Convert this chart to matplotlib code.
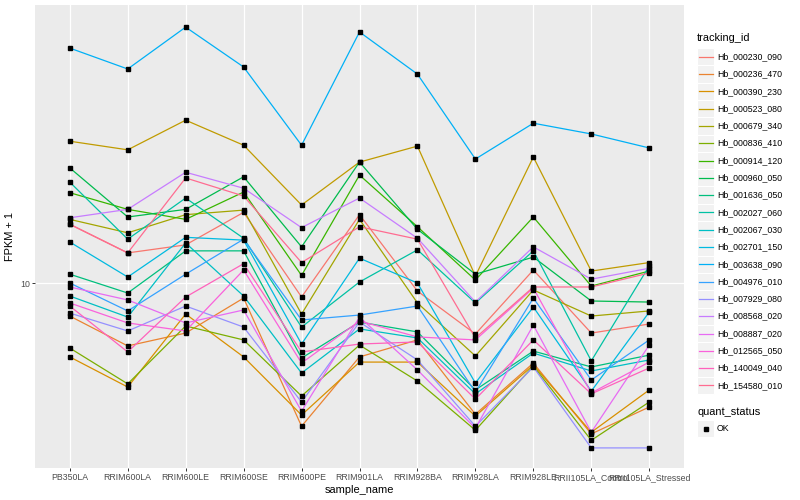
import matplotlib
matplotlib.use("Agg")
import matplotlib.pyplot as plt
from matplotlib.lines import Line2D
from matplotlib.patches import Rectangle
from matplotlib.ticker import FixedLocator, NullLocator, FixedFormatter

plt.rcParams["font.family"] = ["Liberation Sans", "DejaVu Sans"]

SAMPLES = ["PB350LA", "RRIM600LA", "RRIM600LE", "RRIM600SE", "RRIM600PE",
           "RRIM901LA", "RRIM928BA", "RRIM928LA", "RRIM928LE",
           "RRII105LA_Control", "RRII105LA_Stressed"]

TRACKING_IDS = ["Hb_000230_090", "Hb_000236_470", "Hb_000390_230", "Hb_000523_080",
                "Hb_000679_340", "Hb_000836_410", "Hb_000914_120", "Hb_000960_050",
                "Hb_001636_050", "Hb_002027_060", "Hb_002067_030", "Hb_002701_150",
                "Hb_003638_090", "Hb_004976_010", "Hb_007929_080", "Hb_008568_020",
                "Hb_008887_020", "Hb_012565_050", "Hb_140049_040", "Hb_154580_010"]

COLORS = ["#F8766D", "#EA8331", "#D89000", "#C09B00", "#A3A500", "#7CAE00",
          "#39B600", "#00BB4E", "#00BF7D", "#00C1A3", "#00BFC4", "#00BAE0",
          "#00B0F6", "#35A2FF", "#9590FF", "#C77CFF", "#E76BF3", "#FA62DB",
          "#FF62BC", "#FF6C91"]

# FPKM + 1 per sample, one list per tracking id
hb_000230_090 = [15.7, 12.6, 13.4, 17.2, 8.98, 16.9, 9.40, 6.76, 11.05, 6.81, 7.30]
hb_000236_470 = [7.76, 6.17, 6.81, 8.91, 3.33, 5.67, 6.46, 3.65, 5.41, 3.14, 3.86]
hb_000390_230 = [5.67, 4.50, 7.88, 5.67, 3.63, 5.45, 5.45, 3.60, 5.33, 3.18, 4.40]
hb_000523_080 = [29.7, 27.8, 34.9, 28.8, 18.2, 25.3, 28.6, 10.55, 26.3, 10.96, 11.7]
hb_000679_340 = [16.3, 14.7, 16.9, 17.5, 7.88, 16.3, 8.58, 5.71, 9.48, 7.76, 8.07]
hb_000836_410 = [6.07, 4.61, 7.19, 6.46, 4.20, 6.21, 4.71, 3.23, 5.29, 2.99, 4.01]
hb_000914_120 = [20.0, 17.6, 16.3, 20.1, 10.6, 22.9, 15.4, 10.23, 16.6, 9.77, 10.96]
hb_000960_050 = [24.2, 16.6, 17.6, 22.6, 13.2, 25.3, 15.1, 10.7, 12.2, 8.71, 8.64]
hb_001636_050 = [10.7, 9.26, 12.8, 12.8, 5.62, 7.41, 6.87, 4.40, 5.93, 5.25, 5.75]
hb_002027_060 = [21.7, 14.0, 19.2, 14.1, 7.13, 10.08, 12.9, 8.58, 12.8, 5.50, 11.4]
hb_002067_030 = [9.05, 7.70, 13.6, 9.05, 5.01, 7.03, 6.56, 4.27, 5.84, 5.09, 5.54]
hb_002701_150 = [13.7, 10.47, 14.2, 13.9, 6.26, 12.1, 10.0, 4.64, 8.32, 4.36, 8.00]
hb_003638_090 = [60.7, 51.7, 71.3, 52.5, 28.8, 68.7, 49.7, 25.9, 34.1, 31.4, 28.2]
hb_004976_010 = [10.0, 8.07, 10.7, 14.0, 7.53, 7.82, 8.38, 4.33, 8.91, 4.75, 6.46]
hb_007929_080 = [7.94, 6.92, 8.38, 7.13, 4.01, 7.41, 5.54, 3.33, 5.25, 2.82, 2.82]
hb_008568_020 = [16.5, 17.6, 23.4, 20.7, 15.3, 19.2, 14.1, 8.64, 13.2, 10.3, 11.2]
hb_008887_020 = [9.70, 8.78, 7.36, 8.13, 3.74, 7.70, 5.13, 3.28, 7.24, 3.18, 6.21]
hb_012565_050 = [8.58, 7.36, 6.92, 11.05, 5.41, 7.47, 6.61, 6.46, 9.62, 4.30, 5.45]
hb_140049_040 = [8.38, 5.89, 8.98, 11.6, 5.89, 6.26, 6.36, 4.10, 6.46, 4.27, 5.21]
hb_154580_010 = [15.7, 12.6, 22.4, 19.5, 11.7, 15.4, 14.0, 6.56, 9.70, 9.70, 10.8]

FPKM = [hb_000230_090, hb_000236_470, hb_000390_230, hb_000523_080, hb_000679_340,
        hb_000836_410, hb_000914_120, hb_000960_050, hb_001636_050, hb_002027_060,
        hb_002067_030, hb_002701_150, hb_003638_090, hb_004976_010, hb_007929_080,
        hb_008568_020, hb_008887_020, hb_012565_050, hb_140049_040, hb_154580_010]

W, H = 800, 500


def fx(px):
    return px / W


def fy(py):
    return 1 - py / H


fig = plt.figure(figsize=(8, 5), dpi=100)
ax = fig.add_axes([fx(35), fy(468), fx(684) - fx(35), fy(5) - fy(468)])
ax.set_facecolor("#EBEBEB")

x = list(range(1, len(SAMPLES) + 1))
for values, color in zip(FPKM, COLORS):
    ax.plot(x, values, color=color, lw=0.9, zorder=2)
for values in FPKM:
    ax.plot(x, values, ls="none", marker="s", ms=2.4, color="black", zorder=3)

ax.set_yscale("log")
ax.set_ylim(2.417, 84.5)
ax.set_xlim(0.4, 11.6)
ax.yaxis.set_major_locator(FixedLocator([10]))
ax.yaxis.set_major_formatter(FixedFormatter(["10"]))
ax.yaxis.set_minor_locator(NullLocator())
ax.set_xticks(x)
ax.set_xticklabels(SAMPLES)

ax.grid(True, color="white", lw=0.9)
ax.set_axisbelow(True)
for s in ax.spines.values():
    s.set_visible(False)
ax.tick_params(length=2, width=0.7, color="#333333", labelcolor="#4D4D4D",
               labelsize=6.3, pad=1.5)

ax.set_xlabel("sample_name", fontsize=7.9, labelpad=2)
ax.set_ylabel("FPKM + 1", fontsize=7.9, labelpad=4)

# legend drawn by hand, ggplot style
fig.text(fx(697), fy(38), "tracking_id", fontsize=7.9, va="center", ha="left")
step = 17.3
for i, (name, color) in enumerate(zip(TRACKING_IDS, COLORS)):
    yc = 56.7 + i * step
    fig.add_artist(Rectangle((fx(697), fy(yc + step / 2)), fx(17.3), step / H,
                             transform=fig.transFigure, facecolor="#F2F2F2",
                             edgecolor="white", lw=0.8))
    fig.add_artist(Line2D([fx(699), fx(712.5)], [fy(yc), fy(yc)],
                          transform=fig.transFigure, color=color, lw=0.9))
    fig.text(fx(717), fy(yc), name, fontsize=6.3, va="center", ha="left")

fig.text(fx(697), fy(411.7), "quant_status", fontsize=7.9, va="center", ha="left")
yc = 428.5
fig.add_artist(Rectangle((fx(697), fy(yc + step / 2)), fx(17.3), step / H,
                         transform=fig.transFigure, facecolor="#F2F2F2",
                         edgecolor="white", lw=0.8))
fig.add_artist(Line2D([fx(705.6)], [fy(yc)], transform=fig.transFigure,
                      ls="none", marker="s", ms=2.4, color="black"))
fig.text(fx(717), fy(yc), "OK", fontsize=6.3, va="center", ha="left")

fig.savefig("out.png", dpi=100, facecolor="white")
plt.close(fig)
